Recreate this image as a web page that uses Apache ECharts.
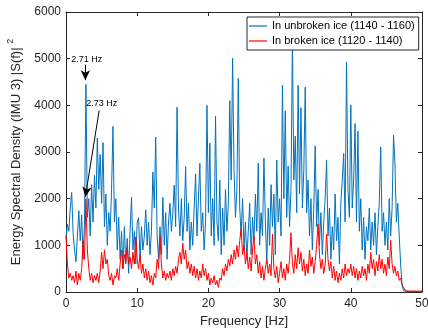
<!DOCTYPE html>
<html>
<head>
<meta charset="utf-8">
<script src="https://cdn.jsdelivr.net/npm/echarts@6/dist/echarts.min.js"></script>
<style>html,body{margin:0;padding:0;background:#fff}#c{width:428px;height:333px}</style>
</head>
<body>
<div id="c"></div>
<script>
// Frequency grid step (Hz) and series values
const freqStep = 0.2;
const unbrokenIce = [
1150,1450,1300,1800,2130,1250,900,650,1200,1740,
1100,1650,700,1500,4450,1600,2000,1200,2300,1500,
2500,1800,3300,2200,2950,1900,3200,1400,2100,1000,
1700,1300,2200,3550,1500,2000,900,1600,700,1300,
500,1400,600,1150,400,1300,2030,900,1300,600,
1500,1590,700,1400,900,1200,1760,1000,1500,800,
1300,2570,1800,3320,1200,700,1400,800,2030,1000,
1700,700,1500,1900,1300,1700,2290,1400,3960,1800,
1200,2000,1100,1600,2690,1300,1900,900,1500,1000,
1800,2530,1200,2000,2760,1300,1700,900,1500,4000,
1700,3190,1200,2000,1000,3770,1500,1100,2400,800,
1800,1000,2200,1300,1900,4100,2400,5010,2600,1600,
2200,4580,1800,1200,2000,900,1500,700,1300,1900,
800,1600,1100,2100,1300,2760,1000,1700,1200,2870,
1500,600,1800,1000,2300,1400,2100,800,2830,1500,
2000,1200,4430,2000,3880,1600,2700,1400,2200,5400,
2400,3340,1700,4430,2100,3950,1800,2600,4390,1700,
2400,1200,2000,900,1800,3130,1400,2200,1000,1700,
800,1500,2000,2830,1200,1800,700,1400,900,2100,
1100,1600,600,1900,2400,2970,1500,4930,2200,1600,
4010,1800,2400,3610,1500,3450,1300,2000,900,1600,
700,1400,1100,1800,900,1500,1000,1700,800,1400,
1900,3110,1300,1700,1000,1500,900,2000,1200,1800,
3360,2760,1500,1900,1200,600,150,30,15,10,
10,12,10,8,10,12,10,9,10,11,10
];
const brokenIce = [
1200,600,300,400,250,350,200,450,150,400,
250,500,1100,700,2000,900,500,250,400,200,
350,250,400,200,450,850,500,900,600,700,
350,250,400,150,350,300,500,250,600,900,
500,800,650,950,600,750,500,850,600,1180,
700,500,800,400,600,300,500,250,450,200,
350,150,400,300,700,500,1190,600,300,450,
250,400,300,450,250,500,350,550,400,700,
850,600,1050,700,900,500,650,400,600,350,
550,300,500,250,450,300,600,350,500,250,
400,150,300,200,350,150,250,100,300,250,
500,350,600,450,700,550,800,600,900,700,
1000,750,1100,1360,800,1000,600,850,500,750,
450,900,1200,600,800,400,650,300,550,250,
500,700,400,600,350,1240,500,300,550,200,
400,650,300,500,250,600,400,700,1270,600,
400,800,500,950,600,850,450,700,350,600,
400,900,550,750,400,650,1000,1460,800,500,
700,400,600,1240,700,450,650,300,550,250,
450,200,400,250,500,300,600,350,500,400,
600,350,550,300,500,250,450,300,550,350,
500,250,600,400,850,500,700,350,650,450,
800,500,700,400,600,350,750,500,1110,600,
400,550,350,450,250,300,150,100,40,25,
20,20,20,20,20,20,20,20,20,20,20
];
const seriesNames = ['In unbroken ice (1140 - 1160)', 'In broken ice (1120 - 1140)'];
const xTicks = [0, 10, 20, 30, 40, 50];
const yTicks = [0, 1000, 2000, 3000, 4000, 5000, 6000];
// annotation labels and arrow ends in data units [Hz, value]
const annotationLabels = ['2.71 Hz', '2.73 Hz'];
const annotationLabelAt = [[2.92, 4990], [5.02, 4030]];
const arrowFrom = [[2.72, 4870], [4.66, 3890]];
const arrowTo = [[2.72, 4540], [2.72, 2040]];

const toPairs = vals => vals.map((v, i) => [+(i * freqStep).toFixed(2), v]);
const font = 'Liberation Sans, Arial, Helvetica, sans-serif';
const axisColor = '#262626';

const baseX = {
  type: 'value', min: xTicks[0], max: xTicks[xTicks.length - 1], interval: 10,
  axisLine: { show: true, onZero: false, lineStyle: { color: axisColor, width: 1 } },
  axisTick: { show: true, inside: true, length: 4, lineStyle: { color: axisColor } },
  splitLine: { show: false }
};
const baseY = {
  type: 'value', min: yTicks[0], max: yTicks[yTicks.length - 1], interval: 1000,
  axisLine: { show: true, onZero: false, lineStyle: { color: axisColor, width: 1 } },
  axisTick: { show: true, inside: true, length: 4, lineStyle: { color: axisColor } },
  splitLine: { show: false }
};

const chart = echarts.init(document.getElementById('c'), null, { renderer: 'canvas' });
chart.setOption({
  animation: false,
  backgroundColor: '#fff',
  textStyle: { fontFamily: font },
  grid: { left: 66, right: 6, top: 12, bottom: 41, containLabel: false, outerBoundsMode: 'none' },
  legend: {
    data: seriesNames.map(n => ({ name: n, icon: 'rect' })), orient: 'vertical', left: 247, top: 17,
    backgroundColor: '#fff', borderColor: axisColor, borderWidth: 1,
    padding: [3, 4, 3, 2], itemWidth: 18, itemHeight: 1.2, itemGap: 3,
    textStyle: { fontFamily: font, fontSize: 11, color: '#000', lineHeight: 12 }
  },
  xAxis: [
    Object.assign({}, baseX, {
      position: 'bottom',
      axisLabel: { show: true, fontSize: 12, color: axisColor, margin: 6, fontFamily: font, formatter: v => String(v) },
      name: 'Frequency [Hz]', nameLocation: 'middle', nameGap: 20,
      nameTextStyle: { fontSize: 13, color: axisColor, fontFamily: font }
    }),
    Object.assign({}, baseX, { position: 'top', axisLabel: { show: false } })
  ],
  yAxis: [
    Object.assign({}, baseY, {
      position: 'left',
      axisLabel: { show: true, fontSize: 12, color: axisColor, margin: 5, fontFamily: font, formatter: v => String(v) },
      name: '{m|Energy Spectral Density (IMU 3) |S(f)|} {s|2}',
      nameLocation: 'middle', nameGap: 39, nameRotate: 90,
      nameTextStyle: {
        fontSize: 13, color: axisColor, fontFamily: font,
        rich: {
          m: { fontSize: 13, color: axisColor, fontFamily: font, verticalAlign: 'bottom' },
          s: { fontSize: 9, color: axisColor, fontFamily: font, verticalAlign: 'top', padding: [0, 0, 8, 0] }
        }
      }
    }),
    Object.assign({}, baseY, { position: 'right', axisLabel: { show: false } })
  ],
  series: [
    {
      name: seriesNames[0], type: 'line', data: toPairs(unbrokenIce),
      symbol: 'none', lineStyle: { color: '#0072BD', width: 1 }, itemStyle: { color: '#0072BD' },
      xAxisIndex: 0, yAxisIndex: 0, silent: true
    },
    {
      name: seriesNames[1], type: 'line', data: toPairs(brokenIce),
      symbol: 'none', lineStyle: { color: '#FF0000', width: 1 }, itemStyle: { color: '#FF0000' },
      xAxisIndex: 0, yAxisIndex: 0, silent: true,
      markLine: {
        silent: true, animation: false,
        symbol: ['none', 'arrow'], symbolSize: [7, 10],
        label: { show: false },
        lineStyle: { color: '#000', width: 1, type: 'solid' },
        data: arrowFrom.map((a, i) => [{ coord: a }, { coord: arrowTo[i] }])
      },
      markPoint: {
        silent: true, animation: false,
        symbol: 'rect', symbolSize: 1,
        itemStyle: { color: 'rgba(0,0,0,0)' },
        label: { show: true, position: 'inside', formatter: '{b}', color: '#000', fontSize: 9, fontFamily: font },
        data: annotationLabels.map((t, i) => ({ name: t, coord: annotationLabelAt[i] }))
      }
    }
  ]
});
</script>
</body>
</html>
